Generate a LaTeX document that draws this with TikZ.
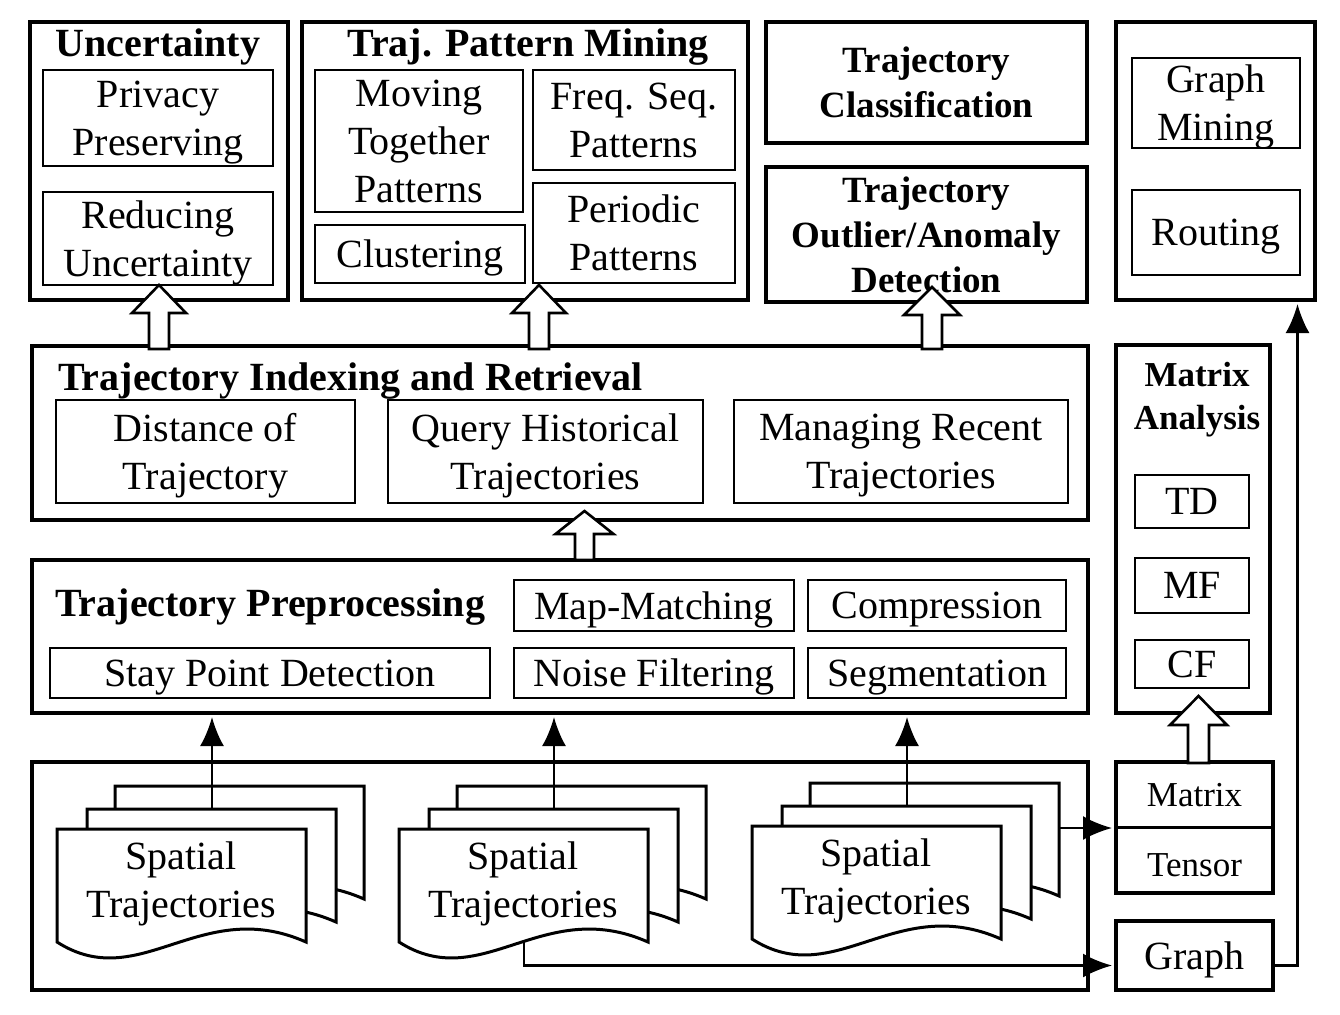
\documentclass[tikz,border=0pt]{standalone}
\usepackage{fontspec}
\setmainfont{Liberation Serif}
\usetikzlibrary{arrows.meta}

\begin{document}
\begin{tikzpicture}[x=1pt, y=-1pt,
    outerbox/.style={draw, line width=4pt, inner sep=0pt},
    innerbox/.style={draw, line width=2.4pt, inner sep=0pt, align=center, text depth=0pt, font=\fontsize{40}{48}\selectfont},
    boxtitle/.style={inner sep=0pt, font=\fontsize{40}{48}\selectfont\bfseries},
    boldtext/.style={align=center, font=\fontsize{37}{45}\selectfont\bfseries},
    plaintext/.style={align=center, font=\fontsize{40}{48}\selectfont},
    arr/.style={line width=2.6pt, -{Latex[length=29pt,width=24pt]}, shorten >=2pt},
    blockarrow/.style={draw, line width=2.6pt, fill=white, line join=miter},
    docline/.style={draw, line width=3pt, fill=white},
    docpage/.pic={
      \draw[docline] (0,0) -- (249,0) -- (249,113) .. controls (143,66) and (83,166) .. (0,113) -- cycle;
      \coordinate (-top) at (125,0);
      \coordinate (-side) at (249,45);
      \coordinate (-bottom) at (125,111);
    }]
    \useasboundingbox (0,0) rectangle (1340,1014);

    % top row
    \node[outerbox, minimum width=258pt, minimum height=278pt] (unc) at (159,161) {};
    \node[boxtitle, anchor=base] (unctitle) at (158,57) {Uncertainty};
    \node[innerbox, minimum width=230pt, minimum height=96pt] (privacy) at (158,118) {Privacy\\Preserving};
    \node[innerbox, minimum width=230pt, minimum height=93pt] (reducing) at (158,238.5) {Reducing\\Uncertainty};

    \node[outerbox, minimum width=446pt, minimum height=278pt] (mining) at (525,161) {};
    \node[boxtitle, anchor=base] (miningtitle) at (528,57) {Traj. Pattern Mining};
    \node[innerbox, minimum width=208pt, minimum height=142pt] (moving) at (419,141) {Moving\\Together\\Patterns};
    \node[innerbox, minimum width=210pt, minimum height=58pt] (clustering) at (420,254) {Clustering};
    \node[innerbox, minimum width=202pt, minimum height=100pt] (freqseq) at (634,120) {Freq. Seq.\\Patterns};
    \node[innerbox, minimum width=202pt, minimum height=100pt] (periodic) at (634,233) {Periodic\\Patterns};

    \node[outerbox, boldtext, minimum width=321pt, minimum height=121pt] (classif) at (926.5,82.5) {Trajectory\\Classification};
    \node[outerbox, boldtext, minimum width=321pt, minimum height=135pt] (outlier) at (926.5,234.5) {Trajectory\\Outlier/Anomaly\\Detection};

    \node[outerbox, minimum width=199pt, minimum height=278pt] (graphapps) at (1215.5,161) {};
    \node[innerbox, minimum width=168pt, minimum height=90pt] (graphmining) at (1216,103) {Graph\\Mining};
    \node[innerbox, minimum width=168pt, minimum height=85pt] (routing) at (1216,232.5) {Routing};

    % indexing and retrieval
    \node[outerbox, minimum width=1056pt, minimum height=174pt] (indexing) at (560,433) {};
    \node[boxtitle, anchor=base west] (indextitle) at (58,390) {Trajectory Indexing and Retrieval};
    \node[innerbox, minimum width=299pt, minimum height=103pt] (distance) at (205.5,451.5) {Distance of\\Trajectory};
    \node[innerbox, minimum width=315pt, minimum height=103pt] (query) at (545.5,451.5) {Query Historical\\Trajectories};
    \node[innerbox, minimum width=334pt, minimum height=103pt] (recent) at (901,451.5) {Managing Recent\\Trajectories};

    % matrix analysis
    \node[outerbox, minimum width=154pt, minimum height=368pt] (matrixana) at (1193,529) {};
    \node[align=center, font=\fontsize{35}{43}\selectfont\bfseries] (matrixtitle) at (1197,400) {Matrix\\Analysis};
    \node[innerbox, minimum width=114pt, minimum height=53pt] (td) at (1192,501.5) {TD};
    \node[innerbox, minimum width=114pt, minimum height=55pt] (mf) at (1192,585.5) {MF};
    \node[innerbox, minimum width=114pt, minimum height=48pt] (cf) at (1192,664) {CF};

    % preprocessing
    \node[outerbox, minimum width=1056pt, minimum height=153pt] (preproc) at (560,636.5) {};
    \node[boxtitle, anchor=base west] (preproctitle) at (55,616) {Trajectory Preprocessing};
    \node[innerbox, minimum width=280pt, minimum height=51pt] (mapmatch) at (654,605.5) {Map-Matching};
    \node[innerbox, minimum width=258pt, minimum height=51pt] (compress) at (937,605.5) {Compression};
    \node[innerbox, minimum width=440pt, minimum height=50pt] (staypoint) at (270,673) {Stay Point Detection};
    \node[innerbox, minimum width=280pt, minimum height=50pt] (noise) at (654,673) {Noise Filtering};
    \node[innerbox, minimum width=258pt, minimum height=50pt] (segment) at (937,673) {Segmentation};

    % raw data
    \node[outerbox, minimum width=1056pt, minimum height=228pt] (data) at (560,876) {};
    \node[outerbox, minimum width=157pt, minimum height=131pt] (mt) at (1194.5,827.5) {};
    \draw[line width=3pt] (mt.west) -- (mt.east);
    \node[align=center, font=\fontsize{35}{43}\selectfont] (matrix) at (1194.5,795) {Matrix};
    \node[align=center, font=\fontsize{35}{43}\selectfont] (tensor) at (1194.5,865) {Tensor};
    \node[outerbox, plaintext, text depth=0pt, minimum width=157pt, minimum height=69pt] (graph) at (1194.5,955.5) {Graph};

    \pic (s1back) at (115,786) {docpage};
    \pic (s1mid) at (87,809) {docpage};
    \pic (s1front) at (57,829) {docpage};
    \node[plaintext] (s1text) at (181,884) {Spatial\\Trajectories};

    \pic (s2back) at (457,786) {docpage};
    \pic (s2mid) at (429,809) {docpage};
    \pic (s2front) at (399,829) {docpage};
    \node[plaintext] (s2text) at (523,884) {Spatial\\Trajectories};

    \pic (s3back) at (810,783) {docpage};
    \pic (s3mid) at (782,806) {docpage};
    \pic (s3front) at (752,826) {docpage};
    \node[plaintext] (s3text) at (876,881) {Spatial\\Trajectories};

    % arrows
    \draw[arr] (s1mid-top) -- (s1mid-top |- preproc.south);
    \draw[arr] (s2mid-top) -- (s2mid-top |- preproc.south);
    \draw[arr] (s3mid-top) -- (s3mid-top |- preproc.south);
    \draw[arr] (s3back-side) -- (s3back-side -| mt.west);
    \draw[arr] (s2front-bottom) |- ([yshift=-10pt]graph.west);
    \draw[arr] ([yshift=-10pt]graph.east) -| ([xshift=82pt]graphapps.south);

    \draw[blockarrow] ([xshift=-10pt,yshift=-5pt]unc.south |- indexing.north) -- ++(0,-36) -- ++(-17,0) -- ++(27,-28) -- ++(27,28) -- ++(-17,0) -- ++(0,36) -- cycle;
    \draw[blockarrow] ([xshift=4pt,yshift=-5pt]mining.south |- indexing.north) -- ++(0,-36) -- ++(-17,0) -- ++(27,-28) -- ++(27,28) -- ++(-17,0) -- ++(0,36) -- cycle;
    \draw[blockarrow] ([xshift=-4.5pt,yshift=-5pt]outlier.south |- indexing.north) -- ++(0,-34) -- ++(-18,0) -- ++(28,-28) -- ++(28,28) -- ++(-18,0) -- ++(0,34) -- cycle;
    \draw[blockarrow] ([xshift=29.5pt,yshift=-2pt]query.south |- preproc.north) -- ++(0,-26) -- ++(-19.5,0) -- ++(29,-23) -- ++(29,23) -- ++(-19.5,0) -- ++(0,26) -- cycle;
    \draw[blockarrow] ([xshift=-6.5pt,yshift=-3pt]mt.north) -- ++(0,-38) -- ++(-18,0) -- ++(28.5,-29) -- ++(28.5,29) -- ++(-18,0) -- ++(0,38) -- cycle;
\end{tikzpicture}
\end{document}
